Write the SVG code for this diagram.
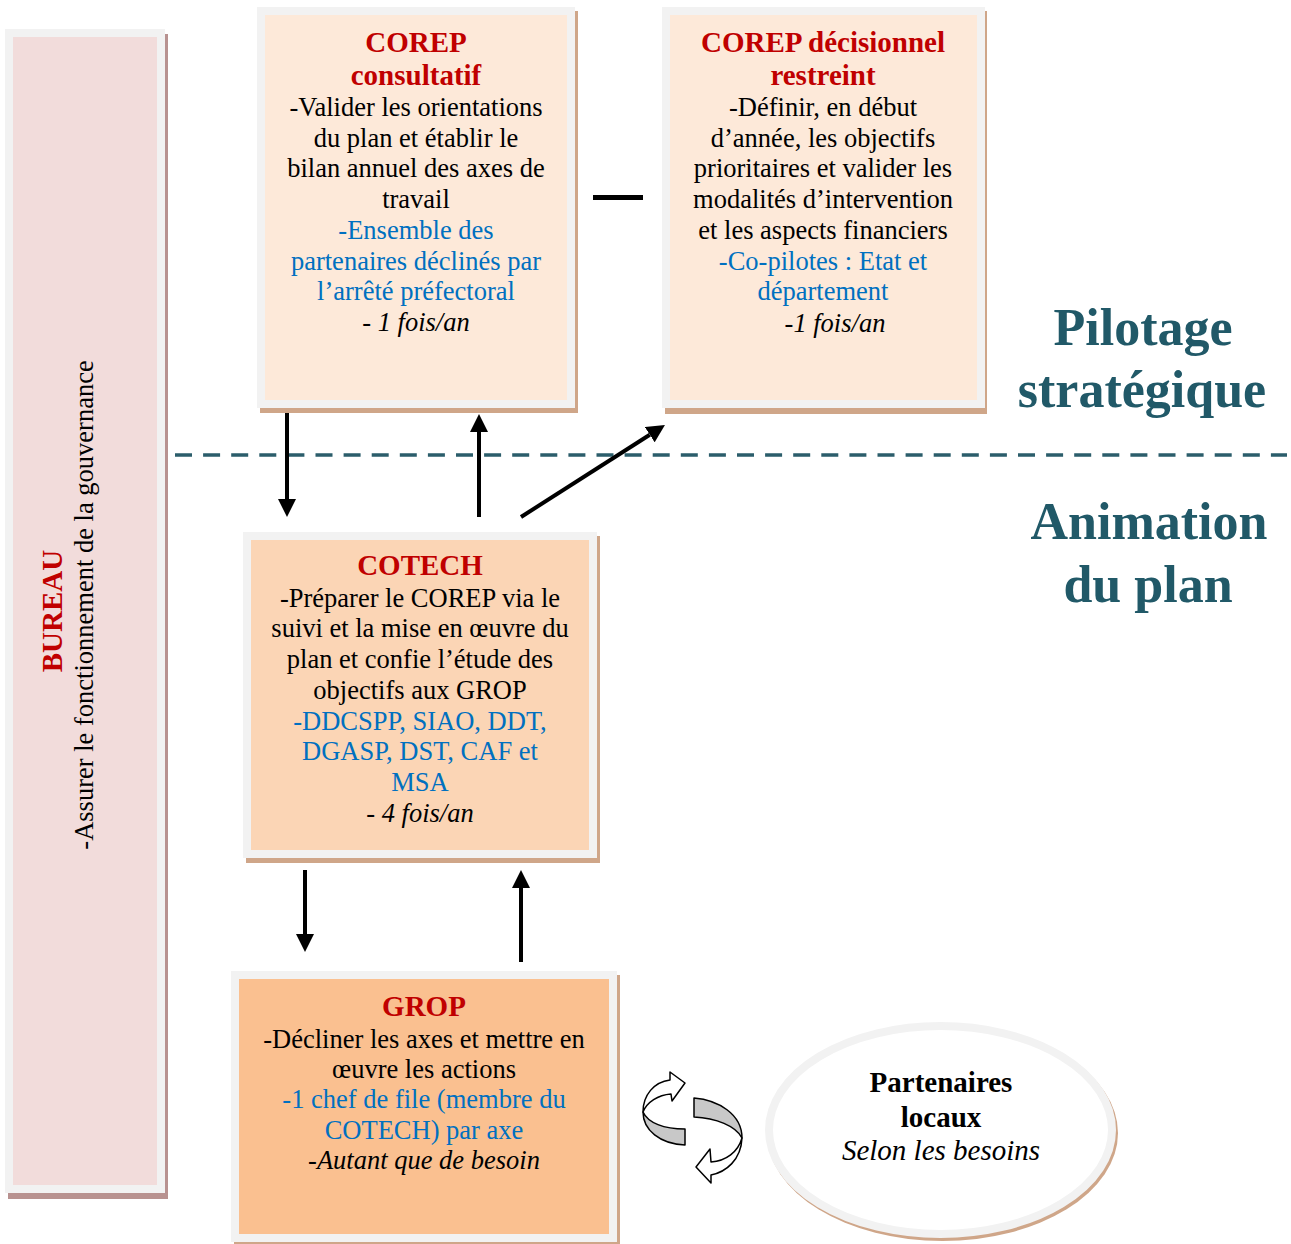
<svg xmlns="http://www.w3.org/2000/svg" width="1291" height="1244" viewBox="0 0 1291 1244">
  <style>
    text { font-family: "Liberation Serif", "Times New Roman", serif; text-anchor: middle; }
    .title { font-size: 29px; font-weight: bold; fill: #c00000; }
    .dark { font-size: 29px; font-weight: bold; fill: #000000; }
    .body { font-size: 26.5px; fill: #000000; }
    .blue { font-size: 26.5px; fill: #0070c0; }
    .freq { font-size: 26.5px; font-style: italic; fill: #000000; }
    .note { font-size: 29px; font-style: italic; fill: #000000; }
    .frame { stroke: #f2f2f2; stroke-width: 8; }
    .shadow { fill: #cfa689; }
    .shadow-rose { fill: #b89290; }
    .zone { font-size: 52px; font-weight: bold; fill: #215968; }
    .arrow { stroke: #000000; stroke-width: 4; fill: none; marker-end: url(#head); }
    .ring-top { fill: #ffffff; stroke: #000000; stroke-width: 1.5; stroke-linejoin: round; }
    .ring-side { fill: #c8c8c8; stroke: #000000; stroke-width: 1.5; stroke-linejoin: round; }
  </style>
  <defs>
    <marker id="head" viewBox="0 0 10 10" refX="0" refY="5" markerWidth="4.5" markerHeight="4.5" orient="auto">
      <path d="M0,0 L10,5 L0,10 Z" fill="#000000"/>
    </marker>
  </defs>

  <rect width="1291" height="1244" fill="#ffffff"/>

  <!-- Side band: BUREAU -->
  <g id="bureau">
    <rect class="shadow-rose" x="8" y="34" width="160" height="1165"/>
    <rect class="frame" x="9" y="33" width="152" height="1156" fill="#f2dcdb"/>
    <text class="title" transform="translate(62 611) rotate(-90)">BUREAU</text>
    <text class="body" transform="translate(93 605) rotate(-90)">-Assurer le fonctionnement de la gouvernance</text>
  </g>

  <!-- COREP consultatif -->
  <g id="corep-consultatif">
    <rect class="shadow" x="260" y="11" width="318" height="402"/>
    <rect class="frame" x="261" y="11" width="310" height="393" fill="#fde9d9"/>
    <text class="title" x="416" y="52">COREP</text>
    <text class="title" x="416" y="85">consultatif</text>
    <text class="body" x="416" y="116">-Valider les orientations</text>
    <text class="body" x="416" y="147">du plan et établir le</text>
    <text class="body" x="416" y="177">bilan annuel des axes de</text>
    <text class="body" x="416" y="208">travail</text>
    <text class="blue" x="416" y="239">-Ensemble des</text>
    <text class="blue" x="416" y="270">partenaires déclinés par</text>
    <text class="blue" x="416" y="300">l’arrêté préfectoral</text>
    <text class="freq" x="416" y="331">- 1 fois/an</text>
  </g>

  <!-- COREP décisionnel restreint -->
  <g id="corep-decisionnel">
    <rect class="shadow" x="665" y="11" width="322" height="403"/>
    <rect class="frame" x="666" y="11" width="315" height="393" fill="#fde9d9"/>
    <text class="title" x="823" y="52">COREP décisionnel</text>
    <text class="title" x="823" y="85">restreint</text>
    <text class="body" x="823" y="116">-Définir, en début</text>
    <text class="body" x="823" y="147">d’année, les objectifs</text>
    <text class="body" x="823" y="177">prioritaires et valider les</text>
    <text class="body" x="823" y="208">modalités d’intervention</text>
    <text class="body" x="823" y="239">et les aspects financiers</text>
    <text class="blue" x="823" y="270">-Co-pilotes : Etat et</text>
    <text class="blue" x="823" y="300">département</text>
    <text class="freq" x="835" y="332">-1 fois/an</text>
  </g>

  <!-- COTECH -->
  <g id="cotech">
    <rect class="shadow" x="246" y="536" width="354" height="327"/>
    <rect class="frame" x="247" y="536" width="346" height="318" fill="#fbd5b5"/>
    <text class="title" x="420" y="575">COTECH</text>
    <text class="body" x="420" y="607">-Préparer le COREP via le</text>
    <text class="body" x="420" y="637">suivi et la mise en œuvre du</text>
    <text class="body" x="420" y="668">plan et confie l’étude des</text>
    <text class="body" x="420" y="699">objectifs aux GROP</text>
    <text class="blue" x="420" y="730">-DDCSPP, SIAO, DDT,</text>
    <text class="blue" x="420" y="760">DGASP, DST, CAF et</text>
    <text class="blue" x="420" y="791">MSA</text>
    <text class="freq" x="420" y="822">- 4 fois/an</text>
  </g>

  <!-- GROP -->
  <g id="grop">
    <rect class="shadow" x="234" y="975" width="386" height="269"/>
    <rect class="frame" x="235" y="975" width="378" height="263" fill="#fac090"/>
    <text class="title" x="424" y="1016">GROP</text>
    <text class="body" x="424" y="1048">-Décliner les axes et mettre en</text>
    <text class="body" x="424" y="1078">œuvre les actions</text>
    <text class="blue" x="424" y="1108">-1 chef de file (membre du</text>
    <text class="blue" x="424" y="1139">COTECH) par axe</text>
    <text class="freq" x="424" y="1169">-Autant que de besoin</text>
  </g>

  <!-- Partenaires locaux -->
  <g id="partenaires">
    <ellipse class="shadow" cx="942.5" cy="1133" rx="175.5" ry="108"/>
    <ellipse class="frame" cx="940.5" cy="1130" rx="171.5" ry="104" fill="#ffffff"/>
    <text class="dark" x="941" y="1092">Partenaires</text>
    <text class="dark" x="941" y="1127">locaux</text>
    <text class="note" x="941" y="1160">Selon les besoins</text>
  </g>

  <!-- Zone labels and separator -->
  <g id="zones">
    <line x1="175" y1="455" x2="1287" y2="455" stroke="#2b5d6b" stroke-width="3.5" stroke-dasharray="17 11.1"/>
    <text class="zone" x="1143" y="345">Pilotage</text>
    <text class="zone" x="1142" y="407">stratégique</text>
    <text class="zone" x="1149" y="539">Animation</text>
    <text class="zone" x="1148" y="602">du plan</text>
  </g>

  <!-- Connectors -->
  <g id="connectors">
    <line class="arrow" x1="287" y1="413" x2="287" y2="499"/>
    <line class="arrow" x1="479" y1="517" x2="479" y2="432"/>
    <line class="arrow" x1="521" y1="517" x2="649.8" y2="434.7"/>
    <line class="arrow" x1="305" y1="870" x2="305" y2="934"/>
    <line class="arrow" x1="521" y1="962" x2="521" y2="888"/>
    <line x1="593" y1="197.5" x2="643" y2="197.5" stroke="#000000" stroke-width="5"/>
    <!-- circular exchange arrows -->
    <path class="ring-side" d="M643,1112 C648,1123 664,1129 685,1129 L685,1145 C660,1144 643,1130 643,1112 Z"/>
    <path class="ring-top" d="M670,1080 L670,1072 L685,1083 L672,1101 L671,1094 C658,1095 647,1102 643,1112 C643,1095 654,1082 670,1080 Z"/>
    <path class="ring-side" d="M694,1098 C718,1100 742,1114 742,1138 C736,1126 716,1118 694,1117 Z"/>
    <path class="ring-top" d="M711,1162 L710,1149 L696,1167 L711,1183 L711,1175 C726,1172 741,1160 742,1138 C738,1152 726,1161 711,1162 Z"/>
  </g>
</svg>
